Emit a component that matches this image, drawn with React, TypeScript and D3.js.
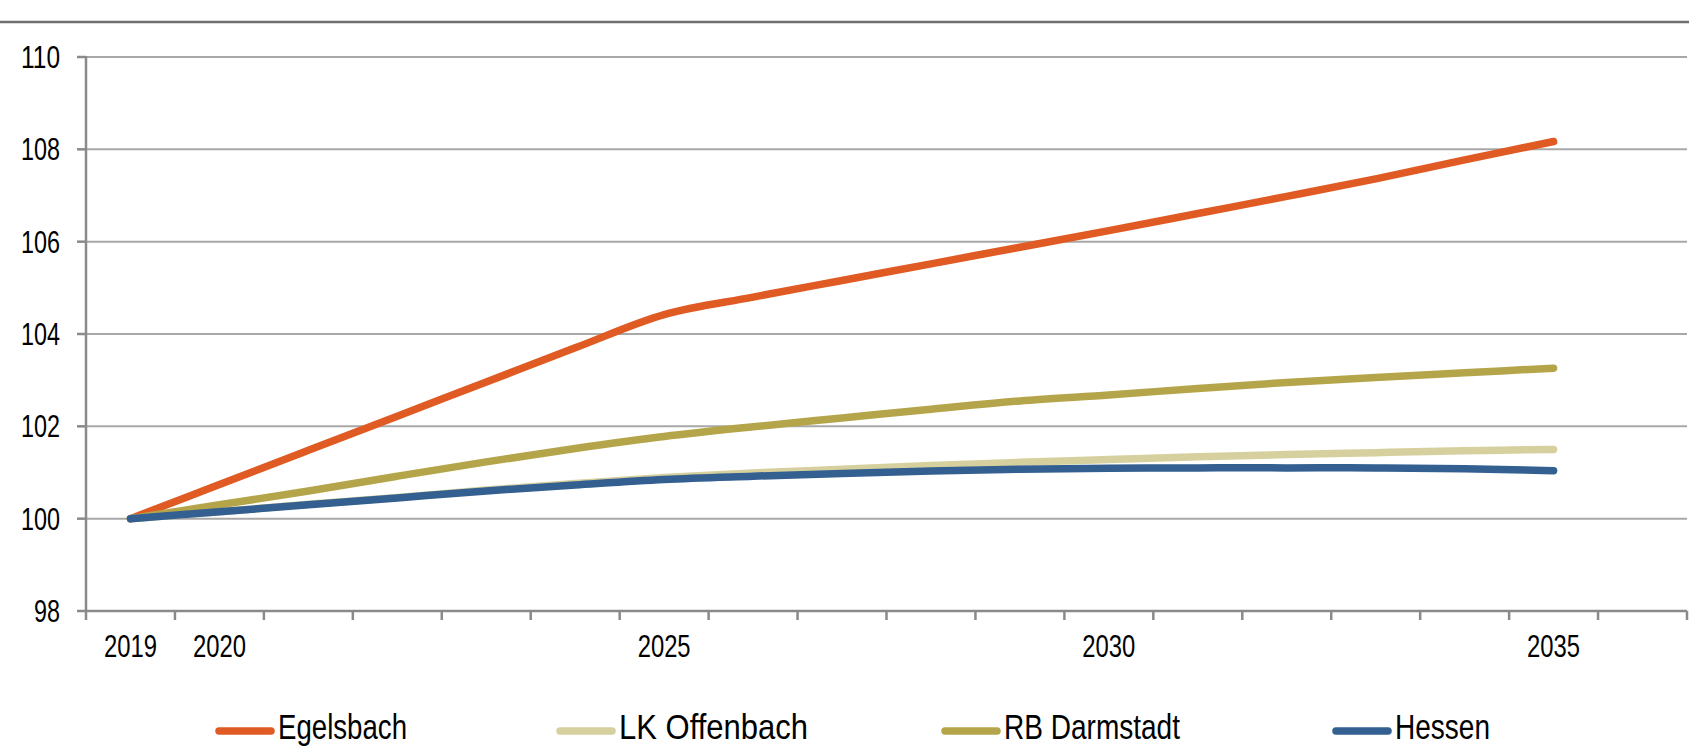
import React, { useEffect, useRef } from "react";
import * as d3 from "d3";

// categories on the x axis (last one is an empty slot like in the source chart)
const years = [
  "2019", "2020", "2021", "2022", "2023", "2024", "2025", "2026", "2027",
  "2028", "2029", "2030", "2031", "2032", "2033", "2034", "2035", "2036",
];
const labelledYears = ["2019", "2020", "2025", "2030", "2035"];
const yTicks = [98, 100, 102, 104, 106, 108, 110];

// index values, 2019 = 100
const egelsbach = [
  100, 100.74, 101.48, 102.22, 102.96, 103.7, 104.42, 104.8, 105.16, 105.52,
  105.88, 106.24, 106.61, 106.98, 107.36, 107.77, 108.17,
];
const lkOffenbach = [
  100, 100.15, 100.31, 100.46, 100.62, 100.76, 100.89, 100.99, 101.07, 101.15,
  101.22, 101.28, 101.34, 101.39, 101.43, 101.47, 101.5,
];
const rbDarmstadt = [
  100, 100.3, 100.6, 100.92, 101.23, 101.52, 101.78, 101.99, 102.18, 102.37,
  102.55, 102.68, 102.82, 102.95, 103.06, 103.16, 103.26,
];
const hessen = [
  100, 100.15, 100.3, 100.45, 100.6, 100.73, 100.85, 100.92, 100.98, 101.03,
  101.07, 101.09, 101.1, 101.1, 101.1, 101.08, 101.04,
];

const seriesNames = ["Egelsbach", "LK Offenbach", "RB Darmstadt", "Hessen"];
const seriesColors = ["#E05A23", "#D6D09E", "#B5A54A", "#335F91"];

const FONT = "'Liberation Sans Narrow', 'Arial Narrow', 'Liberation Sans', Arial, sans-serif";

const App: React.FC = () => {
  const ref = useRef<SVGSVGElement | null>(null);

  useEffect(() => {
    const svg = d3.select(ref.current);
    svg.selectAll("*").remove();

    const width = 1689,
      height = 746;
    const margin = { top: 57, right: 2, bottom: 135, left: 86 };

    const x = d3
      .scaleBand()
      .domain(years)
      .range([margin.left, width - margin.right])
      .paddingInner(0)
      .paddingOuter(0);
    const y = d3
      .scaleLinear()
      .domain([98, 110])
      .range([height - margin.bottom, margin.top]);

    const x0 = margin.left,
      x1 = width - margin.right,
      yBottom = y(98);

    // rule at the top (title above is outside of the frame)
    svg
      .append("line")
      .attr("x1", 0)
      .attr("x2", width)
      .attr("y1", 22)
      .attr("y2", 22)
      .attr("stroke", "#707070")
      .attr("stroke-width", 2.5);

    // gridlines
    svg
      .append("g")
      .selectAll("line")
      .data(yTicks.filter((t) => t !== 98))
      .enter()
      .append("line")
      .attr("x1", x0)
      .attr("x2", x1)
      .attr("y1", (d) => y(d))
      .attr("y2", (d) => y(d))
      .attr("stroke", "#a8a8a8")
      .attr("stroke-width", 2);

    // y axis
    const yAxis = svg.append("g");
    yAxis
      .append("line")
      .attr("x1", x0)
      .attr("x2", x0)
      .attr("y1", y(110) - 1)
      .attr("y2", yBottom)
      .attr("stroke", "#8a8a8a")
      .attr("stroke-width", 2.5);
    yAxis
      .selectAll("line.tick")
      .data(yTicks)
      .enter()
      .append("line")
      .attr("class", "tick")
      .attr("x1", x0 - 9)
      .attr("x2", x0)
      .attr("y1", (d) => y(d))
      .attr("y2", (d) => y(d))
      .attr("stroke", "#8a8a8a")
      .attr("stroke-width", 2.5);
    yAxis
      .selectAll("text")
      .data(yTicks)
      .enter()
      .append("text")
      .attr("x", 60)
      .attr("y", (d) => y(d))
      .attr("dy", "0.36em")
      .attr("text-anchor", "end")
      .attr("font-family", FONT)
      .attr("font-size", 31)
      .attr("textLength", (d) => String(d).length * 13)
      .attr("lengthAdjust", "spacingAndGlyphs")
      .attr("fill", "#000")
      .text((d) => d);

    // x axis
    const xAxis = svg.append("g");
    xAxis
      .append("line")
      .attr("x1", x0)
      .attr("x2", x1)
      .attr("y1", yBottom)
      .attr("y2", yBottom)
      .attr("stroke", "#8a8a8a")
      .attr("stroke-width", 2.5);
    const bounds = years.map((d) => x(d) as number).concat([x1]);
    xAxis
      .selectAll("line.tick")
      .data(bounds)
      .enter()
      .append("line")
      .attr("class", "tick")
      .attr("x1", (d) => d)
      .attr("x2", (d) => d)
      .attr("y1", yBottom)
      .attr("y2", yBottom + 9)
      .attr("stroke", "#8a8a8a")
      .attr("stroke-width", 2.5);
    xAxis
      .selectAll("text")
      .data(labelledYears)
      .enter()
      .append("text")
      .attr("x", (d) => (x(d) as number) + x.bandwidth() / 2)
      .attr("y", 657)
      .attr("text-anchor", "middle")
      .attr("font-family", FONT)
      .attr("font-size", 31)
      .attr("textLength", 53)
      .attr("lengthAdjust", "spacingAndGlyphs")
      .attr("fill", "#000")
      .text((d) => d);

    // lines
    const allSeries = [egelsbach, lkOffenbach, rbDarmstadt, hessen];
    const line = d3
      .line<number>()
      .x((_, i) => (x(years[i]) as number) + x.bandwidth() / 2)
      .y((d) => y(d))
      .curve(d3.curveCardinal);

    svg
      .append("g")
      .selectAll("path")
      .data(allSeries)
      .enter()
      .append("path")
      .attr("d", (d) => line(d))
      .attr("fill", "none")
      .attr("stroke", (_, i) => seriesColors[i])
      .attr("stroke-width", 7.5)
      .attr("stroke-linecap", "round")
      .attr("stroke-linejoin", "round");

    // legend
    const legendX = [219, 560, 945, 1336];
    const legendTextW = [129, 189, 176, 95];
    const legend = svg
      .append("g")
      .selectAll("g")
      .data(seriesNames)
      .enter()
      .append("g")
      .attr("transform", (_, i) => `translate(${legendX[i]},731)`);
    legend
      .append("line")
      .attr("x1", 0)
      .attr("x2", 52)
      .attr("stroke", (_, i) => seriesColors[i])
      .attr("stroke-width", 7.5)
      .attr("stroke-linecap", "round");
    legend
      .append("text")
      .attr("x", 59)
      .attr("y", 8)
      .attr("font-family", FONT)
      .attr("font-size", 35)
      .attr("textLength", (_, i) => legendTextW[i])
      .attr("lengthAdjust", "spacingAndGlyphs")
      .attr("fill", "#000")
      .text((d) => d);
  }, []);

  return (
    <svg
      ref={ref}
      width={1689}
      height={746}
      style={{ position: "absolute", left: 0, top: 0, background: "#fff" }}
    ></svg>
  );
};

export default App;
